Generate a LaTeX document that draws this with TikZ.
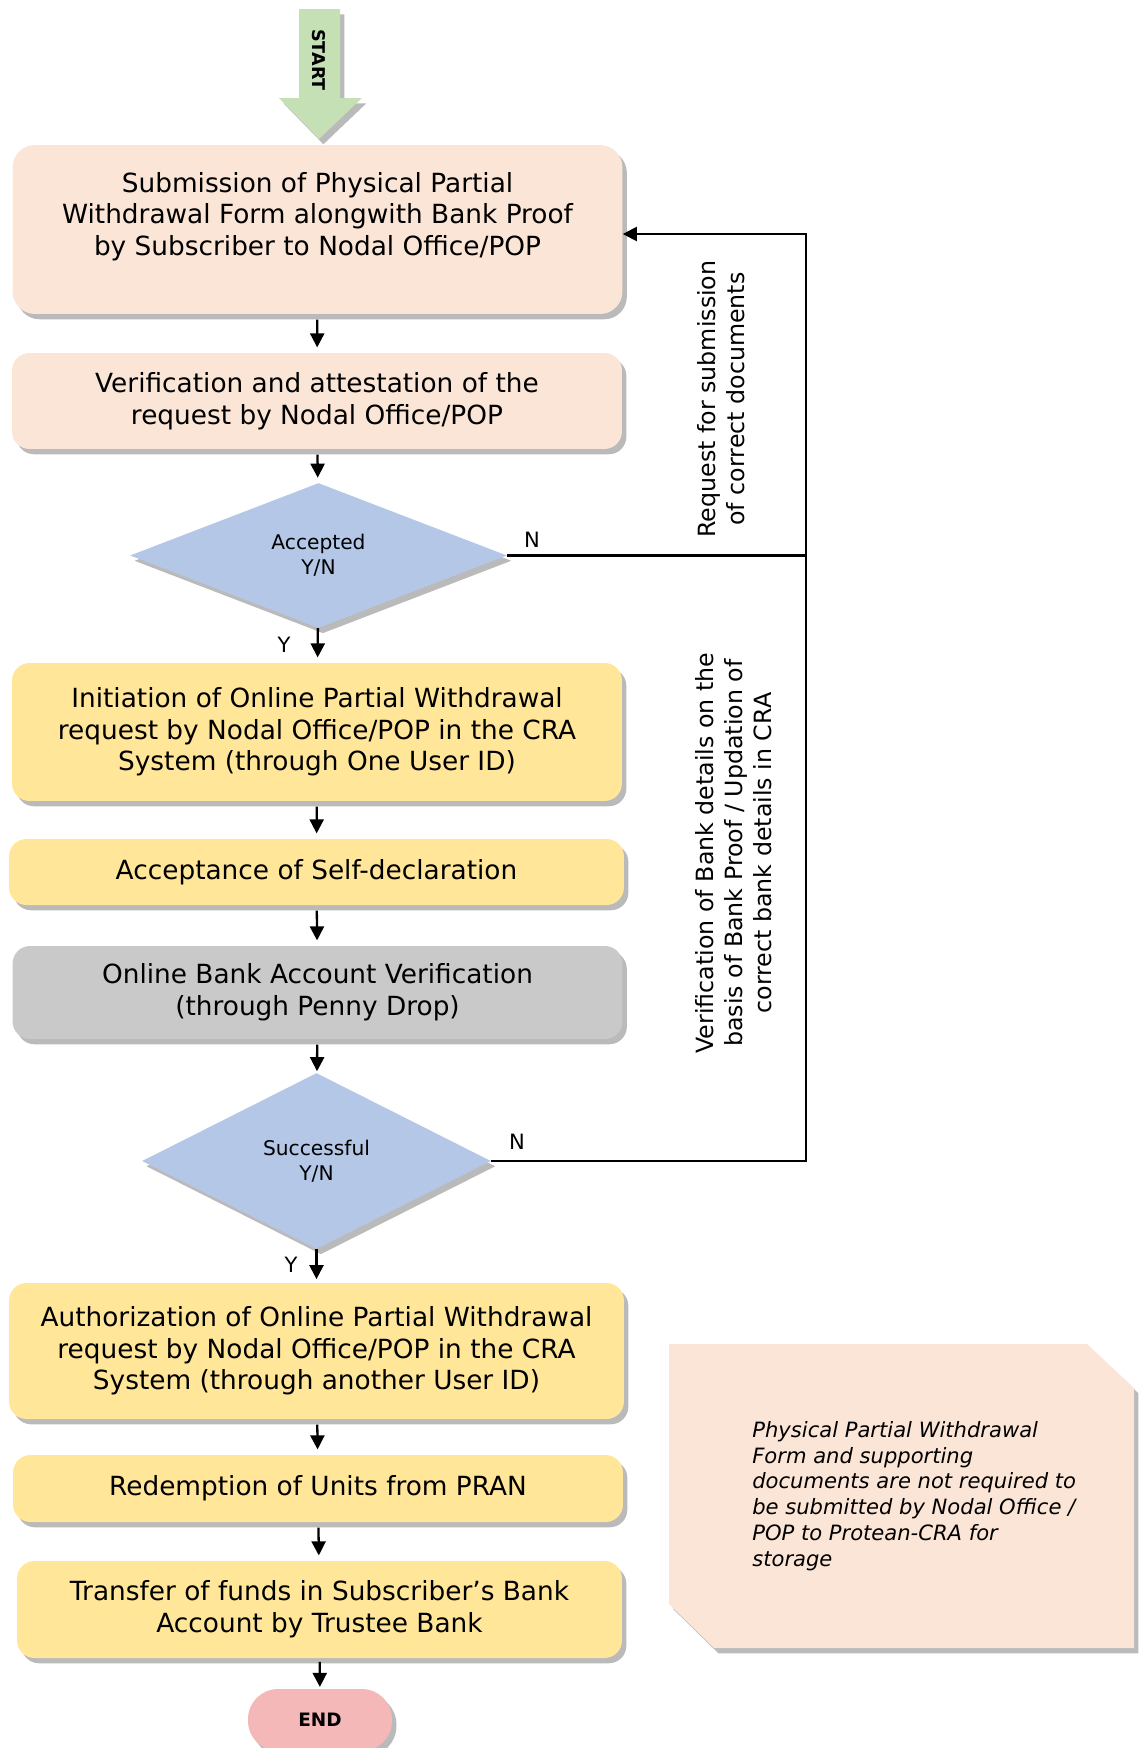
\documentclass[tikz,border=0pt]{standalone}
\usepackage{fontspec}
\setmainfont{DejaVu Sans}
\usetikzlibrary{shapes.geometric,shadows,arrows.meta}
\definecolor{peach}{HTML}{FBE5D6}
\definecolor{sand}{HTML}{FFE699}
\definecolor{stone}{HTML}{C9C9C9}
\definecolor{sky}{HTML}{B4C7E7}
\definecolor{leaf}{HTML}{C5E0B4}
\definecolor{rose}{HTML}{F4B8B8}
\tikzset{
  softshadow/.style={drop shadow={shadow xshift=2.5pt,shadow yshift=-3pt,fill=black!60,opacity=.45}},
  stepbox/.style={rectangle, rounded corners=0.35cm, minimum width=12.2cm, align=center,
    inner sep=2pt, font=\fontsize{15}{18}\selectfont, softshadow},
  decision/.style={diamond, fill=sky, inner sep=0pt, align=center,
    font=\fontsize{11.5}{14}\selectfont, softshadow},
  flow/.style={-{Triangle[length=8pt,width=8pt]}, line width=1.3pt},
  fbline/.style={line width=1.2pt},
  sidetext/.style={rotate=90, align=center, font=\fontsize{13.5}{16.5}\selectfont},
  lbl/.style={font=\fontsize{12}{14}\selectfont, inner sep=0pt},
}
\begin{document}
\begin{tikzpicture}[x=0.02cm,y=-0.02cm]
	% page size of the reference
	\useasboundingbox (0,0) rectangle (1143,1748);
	% the START arrow
	\draw[fill=leaf, draw=none, softshadow] (299,9) -- (340,9) -- (340,98) -- (362,98)
		-- (319,139) -- (279,98) -- (299,98) -- cycle;
	\node[rotate=-90, font=\bfseries\fontsize{10}{12}\selectfont] (start) at (319,60) {START};
	% main column of steps
	\node[stepbox, fill=peach, rounded corners=0.45cm, minimum height=3.38cm] (sub) at (317.5,229.5)
		{Submission of Physical Partial\\Withdrawal Form alongwith Bank Proof\\by Subscriber to Nodal Office/POP\\\mbox{}};
	\node[stepbox, fill=peach, minimum height=1.92cm] (verify) at (317,401)
		{Verification and attestation of the\\request by Nodal Office/POP};
	\node[decision, minimum width=7.54cm, minimum height=2.9cm] (accept) at (318.5,555.5)
		{Accepted\\Y/N};
	\node[stepbox, fill=sand, minimum height=2.76cm] (initiate) at (317,732)
		{Initiation of Online Partial Withdrawal\\request by Nodal Office/POP in the CRA\\System (through One User ID)};
	\node[stepbox, fill=sand, minimum width=12.3cm, minimum height=1.32cm] (selfdecl) at (316.5,872)
		{Acceptance of Self-declaration};
	\node[stepbox, fill=stone, minimum height=1.86cm] (penny) at (317.5,992.5)
		{Online Bank Account Verification\\(through Penny Drop)};
	\node[decision, minimum width=6.98cm, minimum height=3.52cm] (success) at (316.5,1161)
		{Successful\\Y/N};
	\node[stepbox, fill=sand, minimum width=12.3cm, minimum height=2.72cm] (authorize) at (316.5,1351)
		{Authorization of Online Partial Withdrawal\\request by Nodal Office/POP in the CRA\\System (through another User ID)};
	\node[stepbox, fill=sand, minimum height=1.34cm] (redeem) at (318,1488.5)
		{Redemption of Units from PRAN};
	\node[stepbox, fill=sand, minimum width=12.1cm, minimum height=1.94cm] (transfer) at (319.5,1609.5)
		{Transfer of funds in Subscriber’s Bank\\Account by Trustee Bank};
	% END
	\node[stepbox, fill=rose, rounded corners=0.6cm, minimum width=2.88cm, minimum height=1.24cm,
		font=\bfseries\fontsize{10.5}{12}\selectfont] (finish) at (320,1720) {END};
	% arrows down the column
	\draw[flow, shorten <=3pt, shorten >=3pt] (sub) -- (verify);
	\draw[flow, shorten <=3pt, shorten >=3pt] (verify) -- (accept);
	\draw[flow, shorten >=3pt] (accept) -- (initiate);
	\draw[flow, shorten <=3pt, shorten >=3pt] (initiate) -- (selfdecl);
	\draw[flow, shorten <=3pt, shorten >=3pt] (selfdecl) -- (penny);
	\draw[flow, shorten <=3pt, shorten >=1pt] (penny) -- (success);
	\draw[flow, shorten >=2pt] (success) -- (authorize);
	\draw[flow, shorten <=3pt, shorten >=3pt] (authorize) -- (redeem);
	\draw[flow, shorten <=3pt, shorten >=3pt] (redeem) -- (transfer);
	\draw[flow, shorten <=2pt, shorten >=1pt] (transfer) -- (finish);
	% Y / N labels
	\node[lbl] (ya) at (284,645) {Y};
	\node[lbl] (yb) at (291,1265) {Y};
	\node[lbl] (na) at (532,540) {N};
	\node[lbl] (nb) at (517,1142) {N};
	% the loop back to the first step
	\coordinate (fbtop) at (806,234);
	\coordinate (fbbot) at (806,1161);
	\draw[fbline] (accept.east) -- (accept.east -| fbbot);
	\draw[fbline, -{Triangle[length=8pt,width=8pt]}] (success.east) -- (fbbot) -- (fbtop) -- (fbtop -| sub.east);
	\node[sidetext] (askdocs) at (721,399) {Request for submission\\of correct documents};
	\node[sidetext] (bankchk) at (734,853)
		{Verification of Bank details on the\\basis of Bank Proof / Updation of\\correct bank details in CRA};
	% side note
	\draw[fill=peach, draw=none, softshadow] (669,1344) -- (1087,1344) -- (1134,1388) -- (1134,1648)
		-- (714,1648) -- (669,1604) -- cycle;
	\node[anchor=west, align=left, inner sep=0pt, font=\itshape\fontsize{12}{14.7}\selectfont] (note) at (752,1496)
		{Physical Partial Withdrawal\\Form and supporting\\documents are not required to\\be submitted by Nodal Office /\\POP to Protean-CRA for\\storage};
\end{tikzpicture}
\end{document}
